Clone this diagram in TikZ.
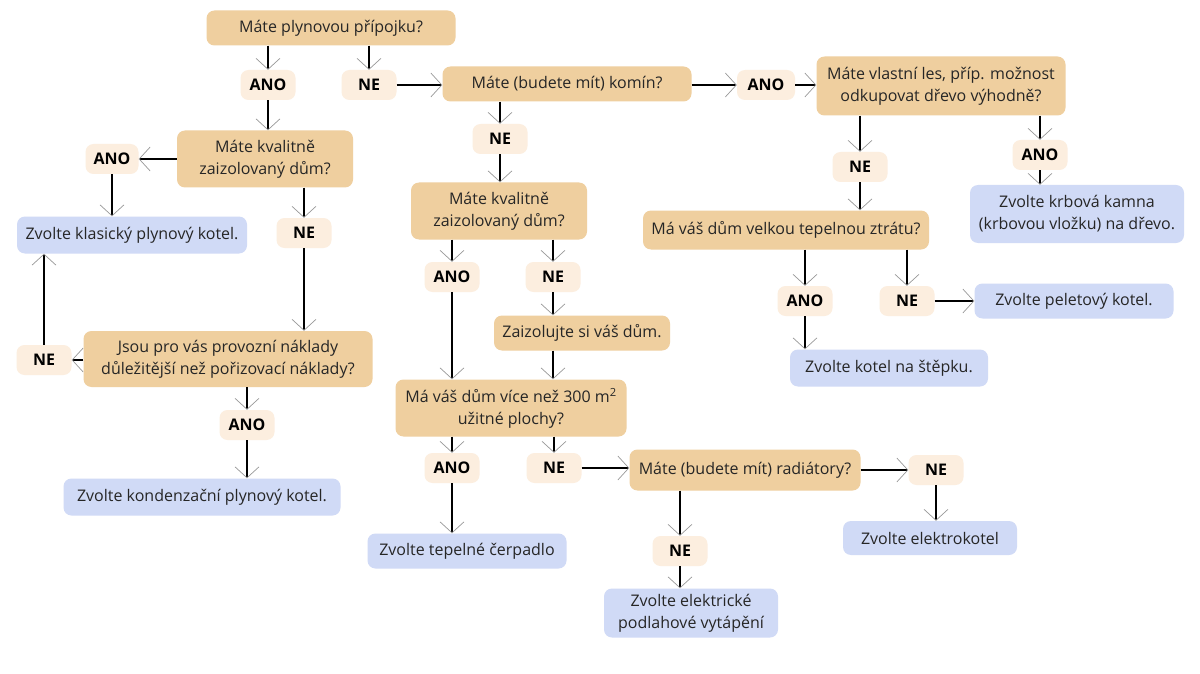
\documentclass[tikz,border=0pt]{standalone}
\usepackage{fontspec}
\setmainfont{Open Sans}
\usetikzlibrary{arrows.meta}
\definecolor{qcol}{HTML}{EFCF9F}
\definecolor{lcol}{HTML}{FCEEDF}
\definecolor{rcol}{HTML}{D0DAF6}
\begin{document}
\begin{tikzpicture}[x=1pt,y=-1pt,
 box/.style={rounded corners=8pt, inner sep=0pt, align=center, font=\fontsize{16}{22}\selectfont, text=black!85},
 sz/.style 2 args={minimum width=#1pt, minimum height=#2pt},
 qbox/.style={box, fill=qcol},
 rbox/.style={box, fill=rcol},
 lbl/.style={box, fill=lcol, minimum width=55pt, minimum height=30pt, font=\fontsize{16}{22}\selectfont\bfseries, text=black},
 conn/.style={line width=1.6pt, -{Straight Barb[length=11pt,width=24pt,line width=0.7pt 0,color=black!40]}}
]
\fill[white] (0,0) rectangle (1200,674);
\useasboundingbox (0,0) rectangle (1200,674);

\node[qbox,sz={249}{35}] (q1) at (331,28) {Máte plynovou přípojku?};
\node[lbl] (a1) at (268,85) {ANO};
\node[lbl] (n1) at (369,85) {NE};
\node[qbox,sz={249}{35}] (q2) at (567,84) {Máte (budete mít) komín?};
\node[lbl,sz={58}{30}] (a2) at (766,85) {ANO};
\node[qbox,sz={249}{59}] (q3) at (941,86) {Máte vlastní les, příp. možnost\\odkupovat dřevo výhodně?};
\node[lbl] (n2) at (500,139) {NE};
\node[qbox,sz={176}{57}] (q4) at (265,159) {Máte kvalitně\\zaizolovaný dům?};
\node[lbl,sz={53}{30}] (a3) at (112,159) {ANO};
\node[rbox,sz={230}{37}] (r1) at (132,235) {Zvolte klasický plynový kotel.};
\node[lbl] (n3) at (304,233) {NE};
\node[qbox,sz={289}{56}] (q5) at (228,359) {Jsou pro vás provozní náklady\\důležitější než pořizovací náklady?};
\node[lbl] (n4) at (44,360) {NE};
\node[lbl] (a4) at (247,425) {ANO};
\node[rbox,sz={277}{37}] (r2) at (202,497) {Zvolte kondenzační plynový kotel.};
\node[qbox,sz={176}{57}] (q6) at (499,211) {Máte kvalitně\\zaizolovaný dům?};
\node[lbl] (a5) at (452,277) {ANO};
\node[lbl] (n5) at (553,277) {NE};
\node[qbox,sz={176}{35}] (q7) at (582,333) {Zaizolujte si váš dům.};
\node[qbox,sz={231}{57}] (q8) at (511,408) {Má váš dům více než 300 m\textsuperscript{2}\\užitné plochy?};
\node[lbl] (a6) at (452,468) {ANO};
\node[lbl] (n6) at (554,468) {NE};
\node[rbox,sz={199}{35}] (r3) at (467,551) {Zvolte tepelné čerpadlo};
\node[qbox,sz={231}{41}] (q9) at (745,470) {Máte (budete mít) radiátory?};
\node[lbl] (n7) at (936,470) {NE};
\node[rbox,sz={174}{34}] (r4) at (930,538) {Zvolte elektrokotel};
\node[lbl] (n8) at (680,551) {NE};
\node[rbox,sz={174}{49}] (r5) at (691,613) {Zvolte elektrické\\podlahové vytápění};
\node[lbl] (n9) at (860,167) {NE};
\node[lbl] (a7) at (1040,155) {ANO};
\node[rbox,sz={214}{58}] (r6) at (1077,214) {Zvolte krbová kamna\\(krbovou vložku) na dřevo.};
\node[qbox,sz={286}{39}] (q10) at (786,230) {Má váš dům velkou tepelnou ztrátu?};
\node[lbl] (a8) at (805,301) {ANO};
\node[lbl] (n10) at (907,301) {NE};
\node[rbox,sz={199}{35}] (r7) at (1074,301) {Zvolte peletový kotel.};
\node[rbox,sz={198}{37}] (r8) at (889,368) {Zvolte kotel na štěpku.};

\draw[conn] (q1.south -| a1) -- (a1.north);
\draw[conn] (q1.south -| n1) -- (n1.north);
\draw[conn] (n1.east) -- (n1.east -| q2.west);
\draw[conn] (a1.south) -- (a1.south |- q4.north);
\draw[conn] (q2.east |- a2) -- (a2.west);
\draw[conn] (a2.east) -- (a2.east -| q3.west);
\draw[conn] (q2.south -| n2) -- (n2.north);
\draw[conn] (n2.south) -- (n2.south |- q6.north);
\draw[conn] (q4.west |- a3) -- (a3.east);
\draw[conn] (a3.south) -- (a3.south |- r1.north);
\draw[conn] (q4.south -| n3) -- (n3.north);
\draw[conn] (n3.south) -- (n3.south |- q5.north);
\draw[conn] (q5.west |- n4) -- (n4.east);
\draw[conn] (n4.north) -- (n4.north |- r1.south);
\draw[conn] (q5.south -| a4) -- (a4.north);
\draw[conn] (a4.south) -- (a4.south |- r2.north);
\draw[conn] (q6.south -| a5) -- (a5.north);
\draw[conn] (q6.south -| n5) -- (n5.north);
\draw[conn] (a5.south) -- (a5.south |- q8.north);
\draw[conn] (n5.south) -- (n5.south |- q7.north);
\draw[conn] (q7.south -| n5) -- (q8.north -| n5);
\draw[conn] (q8.south -| a6) -- (a6.north);
\draw[conn] (q8.south -| n6) -- (n6.north);
\draw[conn] (a6.south) -- (a6.south |- r3.north);
\draw[conn] (n6.east) -- (n6.east -| q9.west);
\draw[conn] (q9.east |- n7) -- (n7.west);
\draw[conn] (n7.south) -- (n7.south |- r4.north);
\draw[conn] (q9.south -| n8) -- (n8.north);
\draw[conn] (n8.south) -- (n8.south |- r5.north);
\draw[conn] (q3.south -| n9) -- (n9.north);
\draw[conn] (n9.south) -- (n9.south |- q10.north);
\draw[conn] (q3.south -| a7) -- (a7.north);
\draw[conn] (a7.south) -- (a7.south |- r6.north);
\draw[conn] (q10.south -| a8) -- (a8.north);
\draw[conn] (q10.south -| n10) -- (n10.north);
\draw[conn] (n10.east) -- (n10.east -| r7.west);
\draw[conn] (a8.south) -- (a8.south |- r8.north);
\end{tikzpicture}
\end{document}
